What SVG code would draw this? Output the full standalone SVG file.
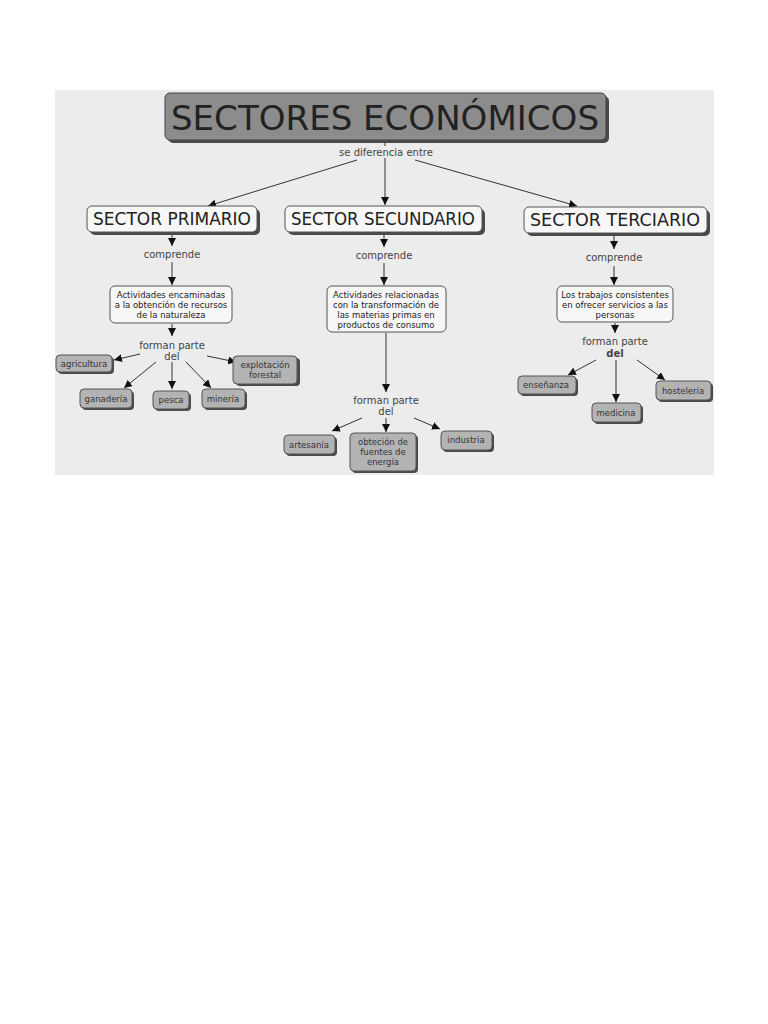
<svg xmlns="http://www.w3.org/2000/svg" width="768" height="1024" viewBox="0 0 768 1024">
<style>
.t{font-family:"DejaVu Sans",Verdana,sans-serif;fill:#222;text-anchor:middle}
.lab{font-size:10px;fill:#444}
.desc{font-size:8.5px}
.leaf{font-size:8.5px;fill:#333}
.sec{font-size:17px}
.sh{fill:#4a4a4a}
.wb{fill:#f7f7f7;stroke:#555;stroke-width:1}
.gb{fill:#b3b3b3;stroke:#555;stroke-width:1}
.c{stroke:#333;stroke-width:1;fill:none;marker-end:url(#ah)}
.l{stroke:#333;stroke-width:1;fill:none}
</style>
<defs>
<marker id="ah" viewBox="0 0 10 10" refX="10" refY="5" markerWidth="8" markerHeight="8" markerUnits="userSpaceOnUse" orient="auto"><path d="M0,0 L10,5 L0,10 z" fill="#111"/></marker>
</defs>
<rect x="0" y="0" width="768" height="1024" fill="#fff"/>
<rect x="55" y="90" width="659" height="385" fill="#ececec"/>

<g id="connectors">
<line class="l" x1="385" y1="140" x2="385" y2="146"/>
<line class="c" x1="357" y1="160" x2="208" y2="206"/>
<line class="c" x1="385" y1="158" x2="385" y2="205"/>
<line class="c" x1="415" y1="160" x2="577" y2="206"/>
<line class="c" x1="172" y1="234" x2="172" y2="246"/>
<line class="c" x1="172" y1="262" x2="172" y2="285"/>
<line class="c" x1="172" y1="324" x2="172" y2="336"/>
<line class="c" x1="140" y1="354" x2="114" y2="360"/>
<line class="c" x1="156" y1="362" x2="124" y2="388"/>
<line class="c" x1="172" y1="362" x2="172" y2="389"/>
<line class="c" x1="186" y1="362" x2="211" y2="388"/>
<line class="c" x1="207" y1="356" x2="236" y2="362"/>
<line class="c" x1="384" y1="234" x2="384" y2="247"/>
<line class="c" x1="384" y1="263" x2="384" y2="285"/>
<line class="c" x1="386" y1="333" x2="386" y2="392"/>
<line class="c" x1="362" y1="418" x2="332" y2="431"/>
<line class="c" x1="386" y1="418" x2="386" y2="432"/>
<line class="c" x1="414" y1="418" x2="440" y2="429"/>
<line class="c" x1="614" y1="235" x2="614" y2="249"/>
<line class="c" x1="614" y1="266" x2="614" y2="285"/>
<line class="c" x1="615" y1="323" x2="615" y2="333"/>
<line class="c" x1="596" y1="360" x2="568" y2="375"/>
<line class="c" x1="616" y1="360" x2="616" y2="402"/>
<line class="c" x1="637" y1="360" x2="665" y2="380"/>
</g>

<g id="title">
<rect class="sh" x="168" y="96" width="441" height="47" rx="5"/>
<rect x="165" y="93" width="441" height="47" rx="5" fill="#8c8c8c" stroke="#444" stroke-width="1"/>
<text class="t" x="385" y="130" font-size="33" textLength="428" lengthAdjust="spacingAndGlyphs">SECTORES ECONÓMICOS</text>
</g>
<g id="lbl-diferencia"><text class="t lab" x="386" y="156" font-size="10">se diferencia entre</text></g>

<g id="primario">
<rect class="sh" x="90" y="209" width="170" height="26" rx="5"/>
<rect class="wb" x="87" y="206" width="170" height="26" rx="5"/>
<text class="t sec" x="172" y="225" textLength="158" lengthAdjust="spacingAndGlyphs">SECTOR PRIMARIO</text>
</g>
<g id="secundario">
<rect class="sh" x="288" y="209" width="197" height="26" rx="5"/>
<rect class="wb" x="285" y="206" width="197" height="26" rx="5"/>
<text class="t sec" x="383" y="225" textLength="184" lengthAdjust="spacingAndGlyphs">SECTOR SECUNDARIO</text>
</g>
<g id="terciario">
<rect class="sh" x="527" y="210" width="183" height="26" rx="5"/>
<rect class="wb" x="524" y="207" width="183" height="26" rx="5"/>
<text class="t sec" x="615" y="226" textLength="170" lengthAdjust="spacingAndGlyphs">SECTOR TERCIARIO</text>
</g>

<g id="comp1"><text class="t lab" x="172" y="258">comprende</text></g>
<g id="comp2"><text class="t lab" x="384" y="259">comprende</text></g>
<g id="comp3"><text class="t lab" x="614" y="261">comprende</text></g>

<g id="desc1">
<rect class="wb" x="110" y="286" width="122" height="37" rx="5"/>
<text class="t desc" x="171" y="298">Actividades encaminadas</text>
<text class="t desc" x="171" y="308">a la obtención de recursos</text>
<text class="t desc" x="171" y="318">de la naturaleza</text>
</g>
<g id="desc2">
<rect class="wb" x="327" y="286" width="119" height="46" rx="5"/>
<text class="t desc" x="386" y="298">Actividades relacionadas</text>
<text class="t desc" x="386" y="308">con la transformación de</text>
<text class="t desc" x="386" y="318">las materias primas en</text>
<text class="t desc" x="386" y="328">productos de consumo</text>
</g>
<g id="desc3">
<rect class="wb" x="557" y="286" width="116" height="36" rx="5"/>
<text class="t desc" x="615" y="298">Los trabajos consistentes</text>
<text class="t desc" x="615" y="308">en ofrecer servicios a las</text>
<text class="t desc" x="615" y="318">personas</text>
</g>

<g id="forman1"><text class="t lab" x="172" y="349">forman parte</text><text class="t lab" x="172" y="360">del</text></g>
<g id="forman2"><text class="t lab" x="386" y="404">forman parte</text><text class="t lab" x="386" y="415">del</text></g>
<g id="forman3"><text class="t lab" x="615" y="345">forman parte</text><text class="t lab" x="615" y="357" font-weight="bold">del</text></g>

<g id="agricultura"><rect class="sh" x="58" y="357" width="56" height="17" rx="4"/><rect class="gb" x="56" y="355" width="56" height="17" rx="4"/><text class="t leaf" x="84" y="367">agricultura</text></g>
<g id="explotacion"><rect class="sh" x="236" y="358" width="64" height="28" rx="4"/><rect class="gb" x="233" y="356" width="64" height="28" rx="4"/><text class="t leaf" x="265" y="368">explotación</text><text class="t leaf" x="265" y="378">forestal</text></g>
<g id="ganaderia"><rect class="sh" x="82" y="391" width="52" height="19" rx="4"/><rect class="gb" x="80" y="389" width="52" height="19" rx="4"/><text class="t leaf" x="106" y="402">ganadería</text></g>
<g id="pesca"><rect class="sh" x="155" y="393" width="36" height="18" rx="4"/><rect class="gb" x="153" y="391" width="36" height="18" rx="4"/><text class="t leaf" x="171" y="403">pesca</text></g>
<g id="mineria"><rect class="sh" x="204" y="391" width="43" height="19" rx="4"/><rect class="gb" x="202" y="389" width="43" height="19" rx="4"/><text class="t leaf" x="223" y="402">minería</text></g>

<g id="artesania"><rect class="sh" x="286" y="437" width="51" height="19" rx="4"/><rect class="gb" x="284" y="435" width="51" height="19" rx="4"/><text class="t leaf" x="309" y="448">artesanía</text></g>
<g id="obtencion"><rect class="sh" x="352" y="435" width="66" height="38" rx="4"/><rect class="gb" x="350" y="433" width="66" height="38" rx="4"/><text class="t leaf" x="383" y="445">obteción de</text><text class="t leaf" x="383" y="455">fuentes de</text><text class="t leaf" x="383" y="465">energía</text></g>
<g id="industria"><rect class="sh" x="443" y="433" width="51" height="19" rx="4"/><rect class="gb" x="441" y="431" width="51" height="19" rx="4"/><text class="t leaf" x="466" y="443">industria</text></g>

<g id="ensenanza"><rect class="sh" x="520" y="378" width="58" height="18" rx="4"/><rect class="gb" x="518" y="376" width="58" height="18" rx="4"/><text class="t leaf" x="546" y="388">enseñanza</text></g>
<g id="medicina"><rect class="sh" x="594" y="405" width="49" height="19" rx="4"/><rect class="gb" x="592" y="403" width="49" height="19" rx="4"/><text class="t leaf" x="616" y="416">medicina</text></g>
<g id="hosteleria"><rect class="sh" x="658" y="383" width="55" height="19" rx="4"/><rect class="gb" x="656" y="381" width="55" height="19" rx="4"/><text class="t leaf" x="683" y="394">hostelería</text></g>
</svg>
